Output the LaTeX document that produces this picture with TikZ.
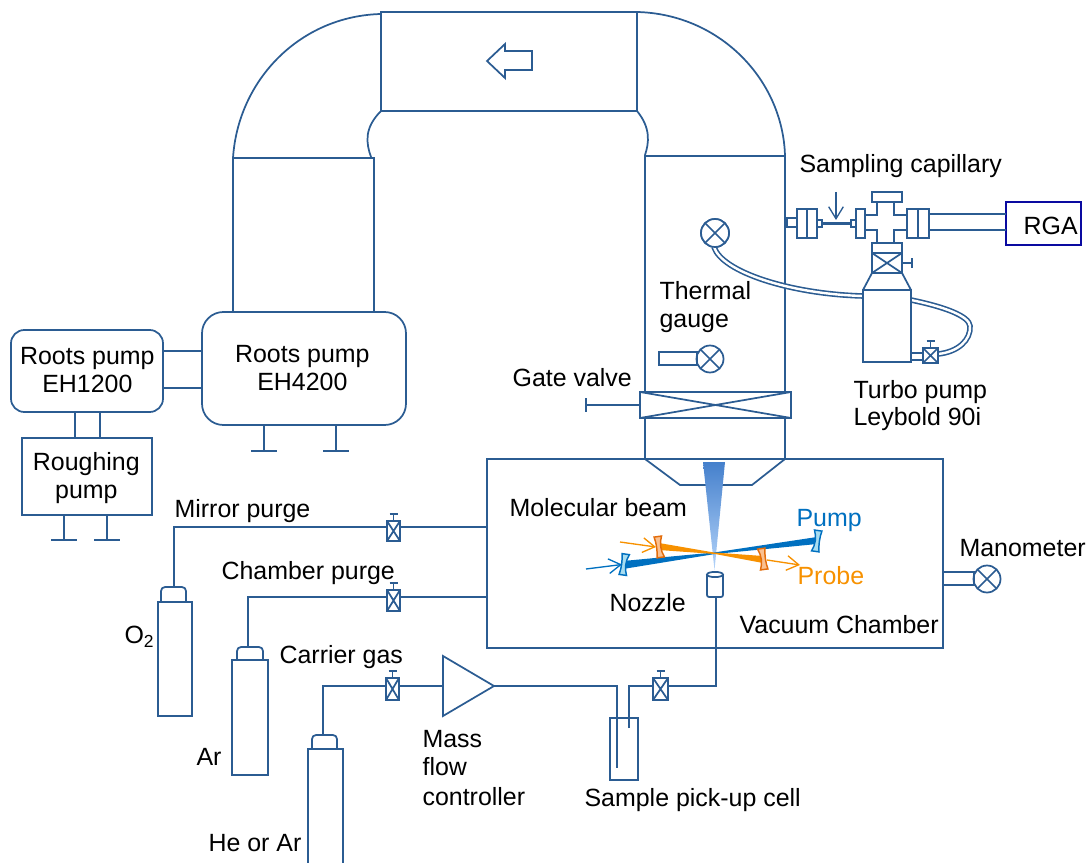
\documentclass[tikz,border=0pt]{standalone}
\usepackage{fontspec}
\setmainfont{Liberation Sans}
\usetikzlibrary{arrows.meta}
\definecolor{ln}{HTML}{2B5C92}
\definecolor{rga}{HTML}{0A0AA0}
\definecolor{pumpc}{HTML}{0070C0}
\definecolor{probec}{HTML}{F79100}
\definecolor{lensp}{HTML}{A8DDF0}
\definecolor{lenso}{HTML}{FAC090}
\definecolor{lensod}{HTML}{E36C0A}
\definecolor{beamtop}{HTML}{4580CC}
\definecolor{beambot}{HTML}{B4D4FA}
\newcommand{\bx}[6][]{%
 \pgfmathsetmacro\cx{(#3+#5)/2}\pgfmathsetmacro\cy{(#4+#6)/2}%
 \pgfmathsetmacro\wdt{(#5-#3)*0.75}\pgfmathsetmacro\hgt{(#6-#4)*0.75}%
 \node[box,minimum width=\wdt pt,minimum height=\hgt pt,#1] (#2) at (\cx,\cy) {};}
\newcommand{\crossed}[1]{\draw[ln line] (#1.north west)--(#1.south east) (#1.north east)--(#1.south west);}
\newcommand{\valve}[5]{% name x1 y1 x2 y2
 \bx{#1}{#2}{#3}{#4}{#5}\crossed{#1}
 \draw[ln line] (#1.north) -- ++(0,-7) ++(-4,0) -- ++(8,0);}
\newcommand{\gauge}[4]{% name x y r
 \pgfmathsetmacro\dia{2*#4*0.75}%
 \node[box,circle,minimum size=\dia pt] (#1) at (#2,#3) {};
 \draw[ln line] (#1.45)--(#1.225) (#1.135)--(#1.315);}
\newcommand{\lens}[5]{% x y rot draw fill
 \begin{scope}[shift={(#1,#2)},rotate=#3]
 \filldraw[draw=#4,fill=#5,line width=1.1pt] (-3.5,-10.5)--(4,-10.5) .. controls (1,-4) and (1,4) .. (4,10.5)--(-3.5,10.5) .. controls (-2,4) and (-2,-4) .. (-3.5,-10.5)--cycle;
 \end{scope}}
\tikzset{
 x=0.75pt,y=-0.75pt,
 ln line/.style={draw=ln,line width=1.3pt,line join=miter},
 box/.style={ln line,rectangle,inner sep=0pt,outer sep=0pt},
 lbl/.style={font=\fontsize{18.7}{21}\selectfont,text=black,inner sep=0pt,align=left,xshift=-0.5pt},
 openhead/.style={-{Straight Barb[length=9pt,width=11pt,line width=1pt]}},
}
\begin{document}
\begin{tikzpicture}
\useasboundingbox (0,0) rectangle (1089,863);
% main duct
\bx{duct}{381}{12}{637}{111}
\draw[ln line] (duct.north west) ++(0,2) .. controls (300,16) and (238,80) .. (233,158);
\draw[ln line] (duct.north east) .. controls (720,14) and (783,80) .. (785,156);
\draw[ln line] (duct.south west) .. controls (364,128) and (366,143) .. (371,157);
\draw[ln line] (duct.south east) .. controls (651,128) and (649,143) .. (645,155);
\draw[ln line] (487,61)--(505,44)--(505,51)--(532,51)--(532,70)--(505,70)--(505,78)--cycle;
% left pumps
\bx{lcol}{233}{158}{374}{312}
\bx[rounded corners=16pt]{ehb}{202}{312}{406}{425}
\node[lbl,align=center] (ehbt) at (303,368) {Roots pump\\EH4200};
\bx[rounded corners=10pt]{eha}{11}{330}{163}{412}
\node[lbl,align=center] (ehat) at (88,370) {Roots pump\\EH1200};
\draw[ln line] (eha.east |- 0,351) -- (ehb.west |- 0,351);
\draw[ln line] (eha.east |- 0,388) -- (ehb.west |- 0,388);
\bx{rough}{22}{438}{152}{515}
\node[lbl,align=center] (rought) at (87,478) {Roughing\\pump};
\draw[ln line] (75,412) -- (75,0 |- rough.north);
\draw[ln line] (100,412) -- (100,0 |- rough.north);
\foreach \fx in {264,336}{\draw[ln line] (\fx,425)--(\fx,451) (\fx-13,451)--(\fx+13,451);}
\foreach \fx in {64,107}{\draw[ln line] (\fx,515)--(\fx,540) (\fx-13,540)--(\fx+13,540);}
% right column
\bx{rcol}{645}{156}{785}{392}
\bx{gate}{640}{392}{791}{418}\crossed{gate}
\coordinate (gh) at (586,405);
\draw[ln line] (gate.west) -- (gh) ++(0,-7) -- ++(0,14);
\bx{chamber}{487}{459}{943}{648}
\draw[ln line] (645,418)--(645,459)--(680,485)--(752,485)--(785,459)--(785,418);
% gauges in column
\gauge{g1}{715}{233}{14}
\gauge{g2}{710}{359}{13.5}
\bx{g2s}{659}{352}{697}{365}
% turbo assembly
\bx{tstub}{787}{218}{797}{227}
\bx{fa}{797}{209}{807}{238}
\bx{fb}{807}{209}{817}{238}
\bx{sa}{817}{220}{822}{227}
\bx{sb}{851}{220}{856}{227}
\draw[ln,line width=2.4pt] (sa.east) -- (sb.west);
\coordinate (cap) at (836,192);
\draw[ln line,openhead] (cap) -- (836,220);
\bx{fc}{856}{209}{865}{238}
\draw[ln line] (865,215)--(877,215)--(877,202) (894,202)--(894,215)--(907,215) (907,230)--(894,230)--(894,243) (877,243)--(877,230)--(865,230);
\bx{ctop}{872}{192}{902}{202}
\bx{fd}{907}{209}{918}{238}
\bx{fe}{918}{209}{929}{238}
\bx[draw=rga]{rga}{1006}{202}{1081}{245}
\node[lbl,anchor=base west] (rgat) at (1024,234) {RGA};
\draw[ln line] (fe.east |- 0,214) -- (rga.west |- 0,214);
\draw[ln line] (fe.east |- 0,230) -- (rga.west |- 0,230);
\bx{cbot}{872}{243}{902}{253}
\bx{tv}{872}{253}{902}{273}\crossed{tv}
\draw[ln line] (tv.east) -- ++(10,0) ++(0,-5) -- ++(0,10);
\draw[ln line] (872,273)--(863,290) (902,273)--(911,290);
\bx{tstb}{911}{353}{923}{360}
% double hoses
\draw[ln,line width=4.2pt] (714,247) .. controls (722,272) and (790,294) .. (863,296);
\draw[white,line width=1.8pt] (714,247) .. controls (722,272) and (790,294) .. (863,296);
\draw[ln,line width=4.2pt] (938,354) .. controls (958,352) and (971,340) .. (970,326) .. controls (969,316) and (945,307) .. (911,300);
\draw[white,line width=1.8pt] (938,354) .. controls (958,352) and (971,340) .. (970,326) .. controls (969,316) and (945,307) .. (911,300);
\bx[fill=white]{turbo}{863}{290}{911}{362}
\valve{tvb}{923}{348}{938}{363}
\draw[ln line,fill=white] (g1) circle (14);
\draw[ln line] (g1.45)--(g1.225) (g1.135)--(g1.315);
% molecular beam
\shade[top color=beamtop,bottom color=beambot] (703,462)--(725,462)--(714.5,570)--cycle;
\fill[pumpc] (623,561)--(714,552.5)--(817,537)--(817,544)--(715,554)--(623,569)--cycle;
\fill[probec] (659,543)--(714,552.5)--(763,556)--(763,563)--(715,554)--(659,550)--cycle;
\lens{624}{564.5}{-8}{pumpc}{lensp}
\lens{817}{541}{172}{pumpc}{lensp}
\lens{659}{547}{8}{lensod}{lenso}
\lens{763}{559}{188}{lensod}{lenso}
\coordinate (pumpin) at (586,569);
\coordinate (probein) at (620,542);
\coordinate (probeout) at (800,565);
\draw[pumpc,line width=1pt,openhead] (pumpin) -- (622,564.5);
\draw[probec,line width=1pt,openhead] (probein) -- (656,547);
\draw[probec,line width=1pt,openhead] (767,560) -- (probeout);
% nozzle
\draw[ln line,fill=white,rounded corners=1.5pt] (707,574)--(707,597)--(723,597)--(723,574);
\draw[ln line,fill=white] (715,574.5) ellipse (8 and 2.6);
% gas lines
\valve{vm}{387}{521}{400}{541}
\draw[ln line] (487,527) -- (400,527);
\draw[ln line] (387,527) -- (174,527) -- (174,587);
\draw[ln line,rounded corners=3pt] (161,602)--(161,587)--(186,587)--(186,602);
\bx{oxy}{158}{602}{192}{716}
\valve{vc}{387}{590}{400}{611}
\draw[ln line] (487,597) -- (400,597);
\draw[ln line] (387,597) -- (248,597) -- (248,647);
\draw[ln line,rounded corners=3pt] (237,660)--(237,647)--(263,647)--(263,660);
\bx{arg}{232}{660}{268}{775}
\valve{vg}{386}{678}{399}{700}
\draw[ln line] (386,686) -- (323,686) -- (323,735);
\draw[ln line,rounded corners=3pt] (312,749)--(312,735)--(337,735)--(337,749);
\draw[ln line] (308,870)--(308,749)--(343,749)--(343,870);
\coordinate (mfca) at (443,656);
\coordinate (mfcb) at (443,716);
\coordinate (mfcc) at (494,686);
\draw[ln line] (mfca)--(mfcb)--(mfcc)--cycle;
\draw[ln line] (399,686) -- (443,686);
\draw[ln line] (mfcc) -- (617,686) -- (617,768);
\bx{cell}{610}{718}{638}{780}
\valve{vn}{653}{678}{668}{700}
\draw[ln line] (629,728) -- (629,686) -- (653,686);
\draw[ln line] (668,686) -- (716,686) -- (716,597);
\gauge{mano}{987}{579}{13.5}
\bx{manos}{943}{572}{974}{585}
% labels
\node[lbl,anchor=base west] (t1) at (800,173) {Sampling capillary};
\node[lbl,anchor=base west] (t2) at (660,299) {Thermal};
\node[lbl,anchor=base west] (t3) at (660,327) {gauge};
\node[lbl,anchor=base west] (t4) at (513,386) {Gate valve};
\node[lbl,anchor=base west] (t5) at (854,398) {Turbo pump};
\node[lbl,anchor=base west] (t6) at (854,425) {Leybold 90i};
\node[lbl,anchor=base west] (t7) at (175,517) {Mirror purge};
\node[lbl,anchor=base west] (t8) at (222,579) {Chamber purge};
\node[lbl,anchor=base west] (t9) at (280,663) {Carrier gas};
\node[lbl,anchor=base west] (t10) at (125,643) {O\textsubscript{2}};
\node[lbl,anchor=base west] (t11) at (197,765) {Ar};
\node[lbl,anchor=base west] (t12) at (209,851) {He or Ar};
\node[lbl,anchor=base west] (t13) at (423,747) {Mass};
\node[lbl,anchor=base west] (t14) at (423,775) {flow};
\node[lbl,anchor=base west] (t15) at (423,805) {controller};
\node[lbl,anchor=base west] (t16) at (585,806) {Sample pick-up cell};
\node[lbl,anchor=base west] (t17) at (510,516) {Molecular beam};
\node[lbl,anchor=base west] (t18) at (610,611) {Nozzle};
\node[lbl,anchor=base west] (t19) at (740,633) {Vacuum Chamber};
\node[lbl,anchor=base west] (t20) at (960,556) {Manometer};
\node[lbl,anchor=base west,text=pumpc] (t21) at (797,526) {Pump};
\node[lbl,anchor=base west,text=probec] (t22) at (798,584) {Probe};
\end{tikzpicture}
\end{document}
